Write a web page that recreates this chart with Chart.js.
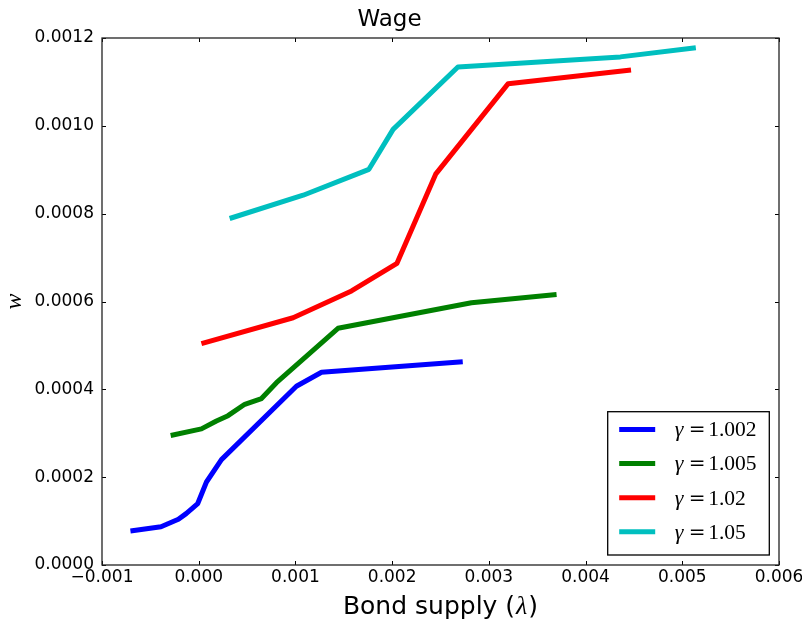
<!DOCTYPE html>
<html><head><meta charset="utf-8">
<script src="https://cdn.jsdelivr.net/npm/chart.js@4"></script>
<style>html,body{margin:0;padding:0;background:#fff}</style>
</head><body>
<canvas id="c" width="802" height="620"></canvas>
<script>
// ---- data ----
const seriesLabels = ['1.002', '1.005', '1.02', '1.05'];
const seriesColors = ['#0000ff', '#008000', '#ff0000', '#00bfbf'];

const blueX = [-0.000706, -0.00039, -0.00021, -0.00013, -0.00001, 0.00008, 0.000235, 0.00101, 0.00127, 0.00273];
const blueY = [0.0000775, 0.000087, 0.000104, 0.000117, 0.00014, 0.000189, 0.00024, 0.000407, 0.000439, 0.000463];

const greenX = [-0.00029, 0.000028, 0.000183, 0.000303, 0.000476, 0.000649, 0.000804, 0.00144, 0.00282, 0.0037];
const greenY = [0.000295, 0.00031, 0.000328, 0.00034, 0.000366, 0.000379, 0.000415, 0.000539, 0.000597, 0.000616];

const redX = [0.000028, 0.000976, 0.00158, 0.00205, 0.00245, 0.0032, 0.00447];
const redY = [0.000504, 0.000563, 0.000624, 0.000687, 0.00089, 0.001096, 0.001127];

const cyanX = [0.00032, 0.00108, 0.00176, 0.00201, 0.00268, 0.00436, 0.00514];
const cyanY = [0.000789, 0.000842, 0.000901, 0.000992, 0.001134, 0.001157, 0.001178];

const xTickMin = -0.001, xTickMax = 0.006, xTickStep = 0.001;
const yTickMin = 0, yTickMax = 0.0012, yTickStep = 0.0002;

const chartTitle = 'Wage';
const xTitleParts = ['Bond supply (', '\u03bb', ')'];
const yTitle = 'w';

// ---- build datasets ----
const xs = [blueX, greenX, redX, cyanX];
const ys = [blueY, greenY, redY, cyanY];
const datasets = seriesLabels.map((lab, i) => ({
  label: '\u03b3=' + lab,
  data: xs[i].map((x, j) => ({x: x, y: ys[i][j]})),
  borderColor: seriesColors[i],
  backgroundColor: seriesColors[i],
  borderWidth: 5,
  pointRadius: 0,
  pointHoverRadius: 0,
  fill: false,
  tension: 0,
  borderCapStyle: 'butt',
  borderJoinStyle: 'round'
}));

const frameAndLegend = {
  id: 'frameAndLegend',
  afterDatasetsDraw(chart) {
    const ctx = chart.ctx;
    const a = chart.chartArea;
    const sx = chart.scales.x, sy = chart.scales.y;
    ctx.save();
    // inward ticks on all four sides
    ctx.strokeStyle = '#000';
    ctx.lineWidth = 1;
    const tl = 4;
    sx.ticks.forEach(t => {
      const px = Math.round(sx.getPixelForValue(t.value)) + 0.5;
      ctx.beginPath();
      ctx.moveTo(px, a.bottom); ctx.lineTo(px, a.bottom - tl);
      ctx.moveTo(px, a.top); ctx.lineTo(px, a.top + tl);
      ctx.stroke();
    });
    sy.ticks.forEach(t => {
      const py = Math.round(sy.getPixelForValue(t.value)) + 0.5;
      ctx.beginPath();
      ctx.moveTo(a.left, py); ctx.lineTo(a.left + tl, py);
      ctx.moveTo(a.right, py); ctx.lineTo(a.right - tl, py);
      ctx.stroke();
    });
    // frame
    ctx.strokeStyle = '#222';
    ctx.lineWidth = 1.3;
    ctx.strokeRect(a.left, a.top, a.right - a.left, a.bottom - a.top);

    // x axis title with italic lambda (mathtext style)
    ctx.fillStyle = '#000';
    ctx.textBaseline = 'alphabetic';
    ctx.textAlign = 'left';
    const fNorm = '25px "DejaVu Sans"';
    const fIt = 'italic 26px "Liberation Serif"';
    ctx.font = fNorm; const w0 = ctx.measureText(xTitleParts[0]).width;
    ctx.font = fIt; const w1 = ctx.measureText(xTitleParts[1]).width + 2;
    ctx.font = fNorm; const w2 = ctx.measureText(xTitleParts[2]).width;
    const cx = (a.left + a.right) / 2;
    let tx = cx - (w0 + w1 + w2) / 2;
    const tb = 614;
    ctx.font = fNorm; ctx.fillText(xTitleParts[0], tx, tb); tx += w0;
    ctx.font = fIt; ctx.fillText(xTitleParts[1], tx + 1, tb); tx += w1;
    ctx.font = fNorm; ctx.fillText(xTitleParts[2], tx, tb);

    // legend box (lower right, inside the axes)
    const bw = 161.6, bh = 143.3;
    const bx = a.right - 9.7 - bw, by = a.bottom - 10 - bh;
    ctx.fillStyle = '#fff';
    ctx.fillRect(bx, by, bw, bh);
    ctx.strokeStyle = '#000';
    ctx.lineWidth = 1.3;
    ctx.strokeRect(bx, by, bw, bh);
    chart.data.datasets.forEach((ds, i) => {
      const cy = by + 17.8 + i * 34.1;
      ctx.strokeStyle = ds.borderColor;
      ctx.lineWidth = 5;
      ctx.lineCap = 'butt';
      ctx.beginPath();
      ctx.moveTo(bx + 11.5, cy); ctx.lineTo(bx + 47.5, cy);
      ctx.stroke();
      const base = cy + 6.8;
      ctx.fillStyle = '#000';
      ctx.textBaseline = 'alphabetic';
      ctx.textAlign = 'left';
      ctx.font = 'italic 22px "Liberation Serif"';
      ctx.fillText('\u03b3', bx + 67, base);
      ctx.font = '20px "DejaVu Serif"';
      ctx.textAlign = 'center';
      ctx.fillText('=', bx + 89.5, base);
      ctx.textAlign = 'left';
      ctx.font = '21.5px "Liberation Serif"';
      ctx.fillText(seriesLabels[i], bx + 100.5, base);
    });
    ctx.restore();
  }
};

new Chart(document.getElementById('c'), {
  type: 'line',
  data: { datasets: datasets },
  options: {
    responsive: false,
    animation: false,
    devicePixelRatio: 1,
    layout: { padding: { left: 0, right: 23, top: 0, bottom: 0 } },
    plugins: {
      legend: { display: false },
      tooltip: { enabled: false },
      title: {
        display: true,
        text: chartTitle,
        color: '#000',
        font: { family: 'DejaVu Sans', size: 23, weight: 'normal' },
        padding: { top: 6.2, bottom: 4.2 }
      }
    },
    scales: {
      x: {
        type: 'linear',
        min: xTickMin, max: xTickMax,
        grid: { display: false, drawTicks: false },
        border: { display: false },
        ticks: {
          stepSize: xTickStep,
          autoSkip: false,
          maxRotation: 0,
          padding: 2,
          color: '#000',
          font: { family: 'DejaVu Sans', size: 17 },
          callback: v => (v < 0 ? '\u2212' : '') + Math.abs(v).toFixed(3)
        },
        title: { display: false },
        afterFit(s) { s.height = 55; s.paddingLeft = 0; s.paddingRight = 0; }
      },
      y: {
        type: 'linear',
        min: yTickMin, max: yTickMax,
        grid: { display: false, drawTicks: false },
        border: { display: false },
        ticks: {
          stepSize: yTickStep,
          autoSkip: false,
          padding: 8,
          color: '#000',
          font: { family: 'DejaVu Sans', size: 17 },
          callback: v => Math.abs(v).toFixed(4)
        },
        title: {
          display: true,
          text: yTitle,
          color: '#000',
          font: { family: 'Liberation Serif', size: 24, style: 'italic' },
          padding: { top: 0, bottom: 0 }
        },
        afterFit(s) { s.width = 102; s.paddingTop = 0; s.paddingBottom = 0; }
      }
    }
  },
  plugins: [frameAndLegend]
});
</script>
</body></html>
